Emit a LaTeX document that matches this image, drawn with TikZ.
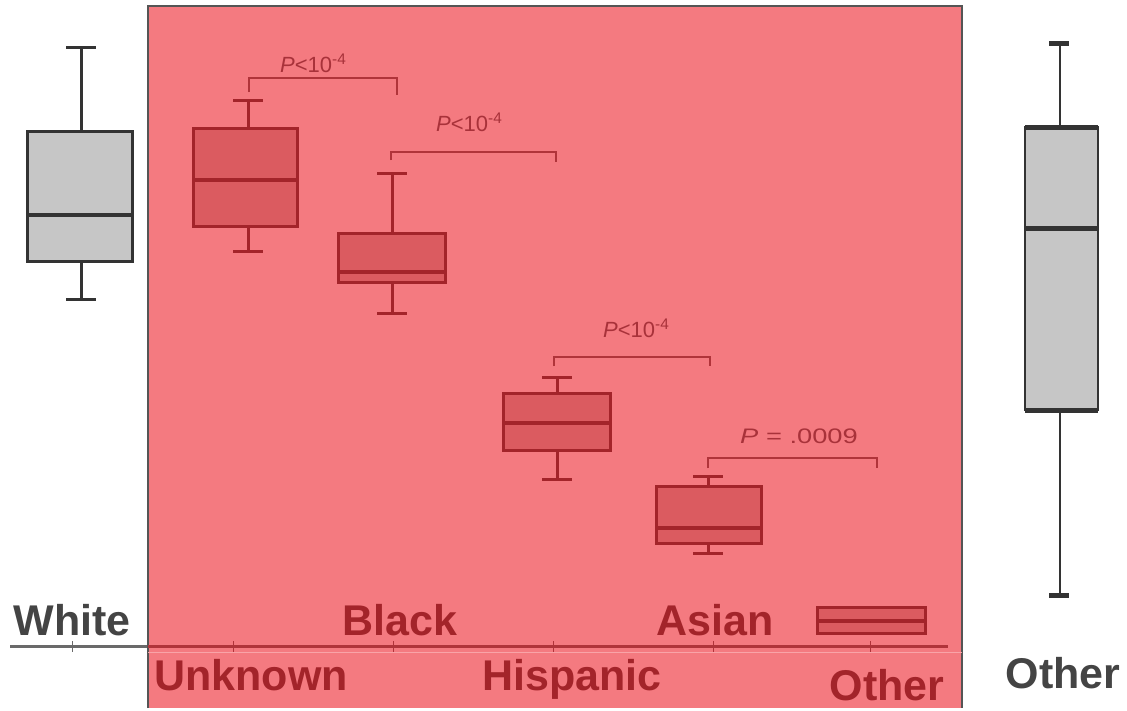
\documentclass[tikz,border=0pt]{standalone}
\usepackage{fontspec}
\usepackage{graphicx}
\setmainfont{Liberation Sans}
\definecolor{ovred}{HTML}{F47A80}
\definecolor{frame}{HTML}{555555}
\definecolor{dred}{HTML}{A3242A}
\definecolor{rfill}{HTML}{DB5B60}
\definecolor{ptxt}{HTML}{A8323A}
\definecolor{gline}{HTML}{333333}
\definecolor{gfill}{HTML}{C6C6C6}
\definecolor{gtxt}{HTML}{444444}
\definecolor{axg}{HTML}{6A6A6A}
\definecolor{axr}{HTML}{B0343A}
\definecolor{axl}{HTML}{F9A4A8}
\tikzset{
  boxred/.style={draw=dred,line width=3pt,fill=rfill},
  medred/.style={draw=dred,line width=3.5pt},
  whiskred/.style={draw=dred,line width=3pt},
  boxgrey/.style={draw=gline,line width=3pt,fill=gfill},
  medgrey/.style={draw=gline,line width=3.5pt},
  whiskgrey/.style={draw=gline,line width=3pt},
  bracket/.style={draw=axr,line width=1.8pt},
  ptext/.style={text=ptxt,font=\fontsize{22}{26}\selectfont,anchor=base west,inner sep=0pt},
  bigred/.style={text=dred,font=\bfseries\fontsize{43}{50}\selectfont,anchor=base,inner sep=0pt},
  biggrey/.style={text=gtxt,font=\bfseries\fontsize{43}{50}\selectfont,anchor=base,inner sep=0pt},
}
% #1 style suffix, #2 centre x, #3 left, #4 right, #5 top, #6 bottom, #7 median, #8 cap top, #9 cap bottom
\newcommand\bxwhisk[9]{%
  \draw[whisk#1] (#2,#5) -- (#2,#8) (#2-15,#8) -- (#2+15,#8);
  \draw[whisk#1] (#2,#6) -- (#2,#9) (#2-15,#9) -- (#2+15,#9);
  \draw[box#1] (#3,#5) rectangle (#4,#6);
  \draw[med#1] (#3,#7) -- (#4,#7);
}
\begin{document}
\begin{tikzpicture}[x=1pt,y=-1pt]
\useasboundingbox (0,0) rectangle (1127,710);
% left White box (outside overlay)
\bxwhisk{grey}{81}{27}{132}{131}{261}{215}{47}{299}
% grey axis segment outside
\draw[draw=axg,line width=3pt] (10,646) -- (148,646);
\draw[draw=axg,line width=1pt] (72,641) -- (72,652);
% red overlay panel
\fill[fill=ovred] (148,6) rectangle (962,708);
\draw[draw=frame,line width=1.5pt] (148,708) -- (148,6) -- (962,6) -- (962,708);
% axis inside
\draw[draw=axr,line width=3pt] (148,646) -- (948,646);
\draw[draw=axl,line width=0.8pt] (148,652) -- (962,652);
\foreach \tx in {233,393,553,713,870}{\draw[draw=axr,line width=1pt] (\tx,641) -- (\tx,652);}
% red boxes
\bxwhisk{red}{248}{193}{297}{128}{226}{180}{100}{251}
\bxwhisk{red}{392}{338}{445}{233}{282}{272}{173}{313}
\bxwhisk{red}{557}{503}{610}{393}{450}{423}{377}{479}
\bxwhisk{red}{708}{656}{761}{486}{543}{528}{476}{553}
\draw[boxred] (817,607) rectangle (925,633);
\draw[medred] (817,621) -- (925,621);
% brackets
\draw[bracket] (249,92) -- (249,78) -- (397,78) -- (397,95);
\draw[bracket] (391,160) -- (391,152) -- (556,152) -- (556,162);
\draw[bracket] (554,366) -- (554,357) -- (710,357) -- (710,366);
\draw[bracket] (708,468) -- (708,458) -- (877,458) -- (877,468);
\node[ptext] (p1) at (280,72) {\textit{P}<10\textsuperscript{-4}};
\node[ptext] (p2) at (436,131) {\textit{P}<10\textsuperscript{-4}};
\node[ptext] (p3) at (603,337) {\textit{P}<10\textsuperscript{-4}};
\node[ptext,font=\fontsize{21}{25}\selectfont] (p4) at (740,443) {\scalebox{1.3}[1]{\textit{P} = .0009}};
% right Other box (outside overlay)
\draw[whiskgrey,line width=2pt] (1060,127) -- (1060,43);
\draw[whiskgrey,line width=2pt] (1060,410) -- (1060,595);
\draw[draw=gline,line width=5pt,line cap=butt] (1049,43) -- (1069,43) (1049,595) -- (1069,595);
\draw[boxgrey,line width=2.5pt] (1025,127) rectangle (1098,410);
\draw[draw=gline,line width=5pt] (1025,127) -- (1098,127) (1025,410) -- (1098,410);
\draw[medgrey,line width=5pt] (1025,228) -- (1098,228);
% category labels
\node[biggrey] (lwhite) at (72,635) {White};
\node[bigred] (lblack) at (400,635) {Black};
\node[bigred] (lasian) at (715,635) {Asian};
\node[bigred] (lunknown) at (251,690) {Unknown};
\node[bigred] (lhispanic) at (572,690) {Hispanic};
\node[bigred] (lother) at (887,700) {Other};
\node[biggrey] (lother2) at (1063,688) {Other};
\end{tikzpicture}
\end{document}
